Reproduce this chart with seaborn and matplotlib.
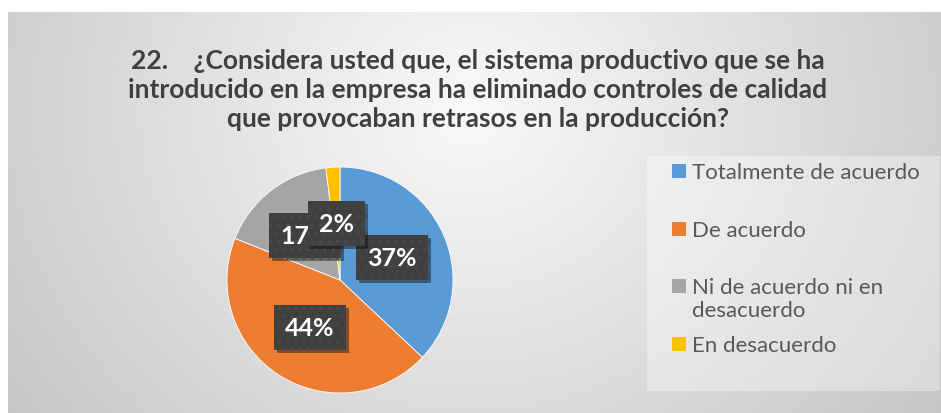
import numpy as np
import matplotlib
matplotlib.use("Agg")
import matplotlib.pyplot as plt
import matplotlib.patheffects as pe
from matplotlib.patches import Rectangle
import seaborn as sns

categories = ["Totalmente de acuerdo", "De acuerdo",
              "Ni de acuerdo ni en\ndesacuerdo", "En desacuerdo"]
values = [37, 44, 17, 2]
colors = ["#5B9BD5", "#ED7D31", "#A5A5A5", "#FFC000"]
title = ("22.    ¿Considera usted que, el sistema productivo que se ha\n"
         "introducido en la empresa ha eliminado controles de calidad\n"
         "que provocaban retrasos en la producción?")

sns.set_style("white")
plt.rcParams["font.family"] = ["Lato", "DejaVu Sans"]

W, H = 941, 414
fig = plt.figure(figsize=(W / 100, H / 100), dpi=100)
fig.patch.set_facecolor("white")

# background radial gradient
bx0, by_top = 8, 13
bg = fig.add_axes([bx0 / W, 0, 1 - bx0 / W, (H - by_top) / H], zorder=0)
xs = np.linspace(bx0, W, 300)
ys = np.linspace(by_top, H, 150)
X, Y = np.meshgrid(xs, ys)
d = np.sqrt((X - 470) ** 2 + ((Y - 110) * 1.1) ** 2)
v = np.clip(0.975 - 0.195 * (d / 560), 0.76, 1)
bg.imshow(v, cmap="gray", vmin=0, vmax=1, aspect="auto",
          extent=[0, 1, 0, 1], interpolation="bilinear")
bg.axis("off")

# pie
cx, cy, r = 340, 281, 113
ax = fig.add_axes([(cx - r) / W, (H - cy - r) / H, 2 * r / W, 2 * r / H], zorder=2)
ax.set_facecolor("none")
pal = sns.color_palette(colors)
wedges, texts, autotexts = ax.pie(
    values, colors=pal, startangle=90, counterclock=False,
    autopct=lambda p: f"{p:.0f}%", pctdistance=0.5, radius=1,
    wedgeprops=dict(linewidth=0.6, edgecolor="white"),
    textprops=dict(color="white", fontsize=18, fontweight="bold"))
for w in wedges:
    w.set_path_effects([pe.SimplePatchShadow(offset=(0, 0), shadow_rgbFace="#888888", alpha=0.25), pe.Normal()])
for t in autotexts:
    t.set_bbox(dict(boxstyle="square,pad=0.45", facecolor="#404040",
                    edgecolor="#4a4a4a", linewidth=0, hatch=".."))
    t.get_bbox_patch().set_path_effects(
        [pe.SimplePatchShadow(offset=(2, -2), shadow_rgbFace="black", alpha=0.4), pe.Normal()])
ax.set_xlim(-1, 1)
ax.set_ylim(-1, 1)
ax.set_aspect("equal")
ax.axis("off")

# title
fig.text(478 / W, 1 - 90 / H, title, ha="center", va="center",
         fontsize=19, fontweight="bold", color="#404040", linespacing=1.25,
         zorder=3)

# legend (Excel-style: fixed slot pitch, marker aligned with first line)
lg_x0, lg_y0, lg_x1, lg_y1 = 647, 157, 940, 392
fig.patches.append(Rectangle((lg_x0 / W, 1 - lg_y1 / H), (lg_x1 - lg_x0) / W,
                             (lg_y1 - lg_y0) / H, transform=fig.transFigure,
                             facecolor="white", alpha=0.35, linewidth=0, zorder=1))
first_y, pitch, msize = 172, 57.7, 14
for i, (lab, col) in enumerate(zip(categories, pal)):
    yc = first_y + i * pitch
    fig.patches.append(Rectangle((672 / W, 1 - (yc + msize / 2) / H), msize / W, msize / H,
                                 transform=fig.transFigure, facecolor=col,
                                 linewidth=0, zorder=3))
    fig.text(692 / W, 1 - (yc - 9) / H, lab, ha="left", va="top",
             fontsize=16, color="#595959", linespacing=1.15, zorder=3)

fig.savefig("out.png", dpi=100)
